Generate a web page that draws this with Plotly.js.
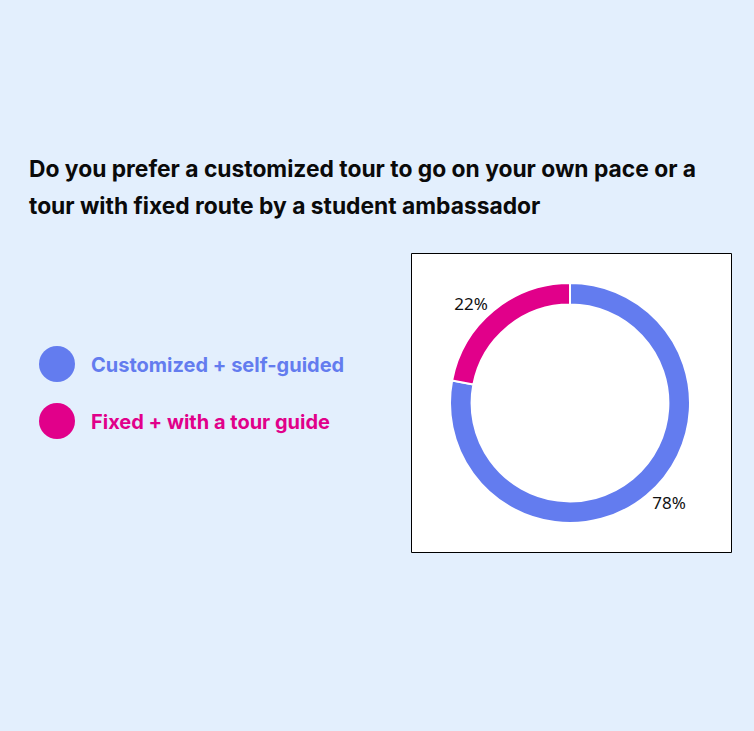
<!DOCTYPE html>
<html>
<head>
<meta charset="utf-8">
<script src="https://cdn.plot.ly/plotly-3.0.1.min.js"></script>
<style>
  html, body { margin: 0; padding: 0; background: #e3effd; }
  #chart { width: 754px; height: 731px; }
</style>
</head>
<body>
<div id="chart"></div>
<script>
// ---- data ----
const categories = ["Customized + self-guided", "Fixed + with a tour guide"];
const shares = [78, 22];
const sliceColors = ["#637cef", "#e1008a"];
const titleLines = [
  "Do you prefer a customized tour to go on your own pace or a",
  "tour with fixed route by a student ambassador"
];

const W = 754, H = 731;
const px = x => x / W;
const py = y => 1 - y / H;

const pieCx = 570, pieCy = 403, half = 120;

const trace = {
  type: "pie",
  labels: categories,
  values: shares,
  sort: false,
  direction: "clockwise",
  rotation: 0,
  hole: 0.82,
  marker: { colors: sliceColors, line: { color: "#ffffff", width: 2 } },
  textinfo: "percent",
  textposition: "outside",
  texttemplate: "%{percent:.0%}",
  outsidetextfont: { family: "Noto Sans", size: 17, color: "#111111" },
  showlegend: false,
  hoverinfo: "label+percent",
  domain: { x: [px(pieCx - half), px(pieCx + half)], y: [py(pieCy + half), py(pieCy - half)] }
};

const annotations = [];
titleLines.forEach((t, i) => {
  annotations.push({
    text: t, xref: "paper", yref: "paper",
    x: px(27), y: py(168 + i * 37), xanchor: "left", yanchor: "middle",
    showarrow: false,
    font: { family: "Inter", size: 22.8, weight: 700, color: "#0a0a0a" }
  });
});

const shapes = [{
  type: "rect", xref: "paper", yref: "paper", layer: "below",
  x0: px(411.5), x1: px(731.5), y0: py(552.5), y1: py(253.5),
  fillcolor: "#ffffff", line: { color: "#000000", width: 1 }
}];

categories.forEach((c, i) => {
  const cy = 364 + i * 57;
  shapes.push({
    type: "circle", xref: "paper", yref: "paper",
    x0: px(39), x1: px(75), y0: py(cy + 18), y1: py(cy - 18),
    fillcolor: sliceColors[i], line: { width: 0 }
  });
  annotations.push({
    text: c, xref: "paper", yref: "paper",
    x: px(89), y: py(cy + 1), xanchor: "left", yanchor: "middle",
    showarrow: false,
    font: { family: "Inter", size: 20, weight: 700, color: sliceColors[i] }
  });
});

const layout = {
  width: W, height: H,
  margin: { l: 0, r: 0, t: 0, b: 0 },
  paper_bgcolor: "#e3effd",
  plot_bgcolor: "#e3effd",
  annotations: annotations,
  shapes: shapes
};

Plotly.newPlot("chart", [trace], layout, { displayModeBar: false, staticPlot: true });
</script>
</body>
</html>
